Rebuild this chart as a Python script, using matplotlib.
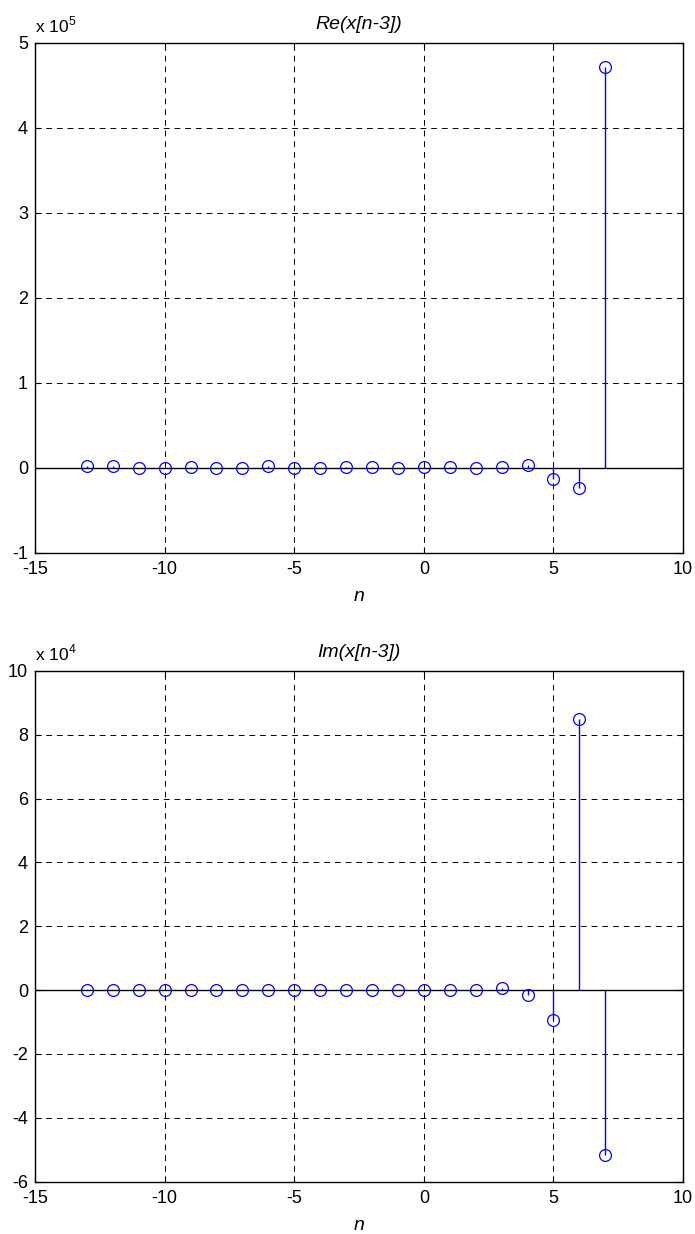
import numpy as np
import matplotlib.pyplot as plt

plt.rcParams['font.family'] = ['Liberation Sans', 'DejaVu Sans']
plt.rcParams['mathtext.fontset'] = 'custom'
plt.rcParams['mathtext.rm'] = 'Liberation Sans'
plt.rcParams['axes.unicode_minus'] = False

n = np.arange(-13, 8)
re_x = np.array([0.02, 0.02, 0.0, 0.0, 0.01, 0.0, 0.0, 0.02, 0.0, 0.0, 0.01,
                 0.01, 0.0, 0.01, 0.01, 0.0, 0.01, 0.03, -0.13, -0.24, 4.72]) * 1e5
im_x = np.array([0.0, 0.0, 0.0, 0.0, 0.0, 0.0, 0.0, 0.0, 0.0, 0.0, 0.0,
                 0.0, 0.0, 0.0, 0.0, 0.0, 0.08, -0.16, -0.95, 8.5, -5.15]) * 1e4

panels = [
    ("Re(x[n-3])", re_x, 5, (-1, 5), np.arange(-1, 6, 1)),
    ("Im(x[n-3])", im_x, 4, (-6, 10), np.arange(-6, 11, 2)),
]

fig = plt.figure(figsize=(6.95, 12.34), dpi=100)
rects = [[0.0504, 0.5519, 0.9324, 0.4135], [0.0504, 0.0424, 0.9324, 0.4139]]

for rect, (title, vals, expo, ylim, yticks) in zip(rects, panels):
    ax = fig.add_axes(rect)
    y = vals / 10.0 ** expo
    ax.vlines(n, 0, y, color='blue', lw=1.0, zorder=3)
    ax.plot(n, y, 'o', mfc='none', mec='blue', ms=8.5, mew=0.9, zorder=4)
    ax.axhline(0, color='black', lw=1.0, zorder=2)
    ax.set_xlim(-15, 10)
    ax.set_ylim(*ylim)
    ax.set_xticks(np.arange(-15, 11, 5))
    ax.set_yticks(yticks)
    ax.grid(True, color='black', ls=(0, (6, 5)), lw=0.7)
    ax.tick_params(direction='in', labelsize=13, length=4, width=0.8,
                   top=True, right=True)
    ax.tick_params(axis='x', pad=6)
    ax.tick_params(axis='y', pad=5)
    for s in ax.spines.values():
        s.set_linewidth(1.0)
    ax.set_title(title, fontstyle='italic', fontsize=14, pad=10)
    ax.set_xlabel('n', fontstyle='italic', fontsize=14, labelpad=7)
    ax.text(0.0, 1.02, r'x 10$^{%d}$' % expo, transform=ax.transAxes,
            fontsize=12.5, ha='left', va='baseline')

fig.savefig('out.png', dpi=100)
